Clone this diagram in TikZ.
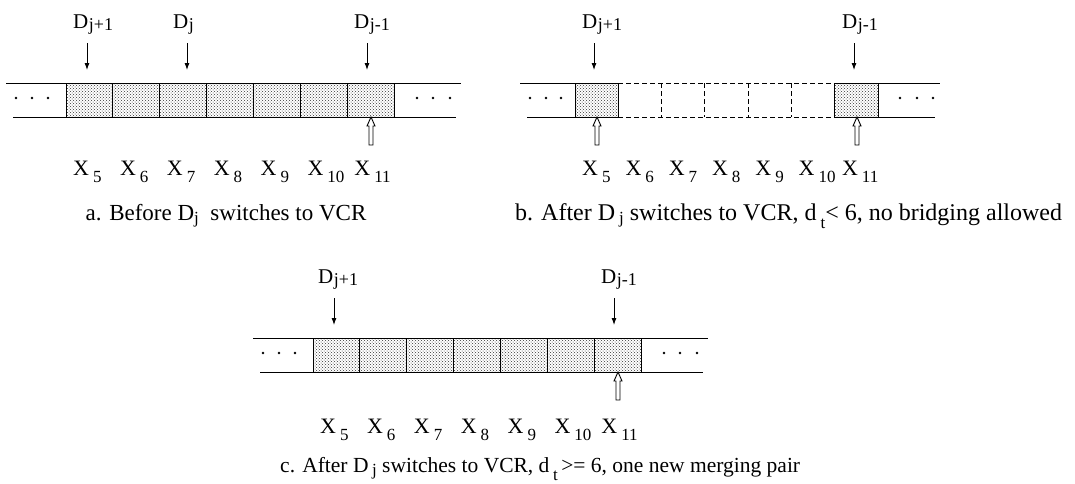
\documentclass[tikz,border=0pt]{standalone}
\usepackage{fontspec}
\setmainfont{Liberation Serif}
\usetikzlibrary{arrows.meta,patterns}

\newcommand{\xsub}[1]{\hspace{4pt}\raisebox{-7pt}{\fontsize{17}{17}\selectfont #1}}
\newcommand{\dsub}[1]{\hspace{0.5pt}\raisebox{-2pt}{\fontsize{18}{18}\selectfont #1}}
\newcommand{\csub}[2]{\raisebox{-#1pt}{\fontsize{17}{17}\selectfont #2}}

\begin{document}
\begin{tikzpicture}[x=1pt,y=-1pt,
  cellbox/.style={draw,line width=1pt,minimum height=34pt,inner sep=0pt,outer sep=0pt,anchor=north west},
  shaded/.style={cellbox,pattern=crosshatch dots,pattern color=black!80},
  gapline/.style={line width=1pt,dash pattern=on 5pt off 3pt},
  rail/.style={line width=1pt},
  pointer/.style={line width=0.9pt,-{Latex[length=7pt,width=5pt]}},
  dlab/.style={anchor=base west,inner sep=0pt,font=\fontsize{21}{25}\selectfont},
  xlab/.style={anchor=base west,inner sep=0pt,font=\fontsize{22}{26}\selectfont},
  caption/.style={anchor=base west,inner sep=0pt,font=\fontsize{23}{27}\selectfont},
  hollow/.pic={\draw[line width=0.9pt,fill=white] (0,0) -- (4,9) -- (2,9) -- (2,28) -- (-2,28) -- (-2,9) -- (-4,9) -- cycle;}]
\useasboundingbox (0,0) rectangle (1075,483);

% a. before the switch
\draw[rail] (6,83) -- (461,83);
\draw[rail] (13,117) -- (456,117);
\foreach \i [evaluate=\i as \n using int(\i+5)] in {0,...,6} {
  \node[shaded,minimum width=46.86pt] (a\n) at (66+46.86*\i,83) {};
  \node[xlab] (xa\n) at (73+46.86*\i,175) {X\xsub{\n}};
}
\foreach \x in {16,32,48,417,433,450} \fill (\x,98) circle (1.4pt);
\node[dlab] (da1) at (73,28) {D\dsub{j+1}};
\node[dlab] (da0) at (173,28) {D\dsub{j}};
\node[dlab] (da2) at (354,28) {D\dsub{j-1}};
\coordinate (ta1) at (87,43);  \coordinate (ha1) at (87,70);
\coordinate (ta0) at (187,43); \coordinate (ha0) at (187,70);
\coordinate (ta2) at (367,43); \coordinate (ha2) at (367,70);
\draw[pointer] (ta1) -- (ha1);
\draw[pointer] (ta0) -- (ha0);
\draw[pointer] (ta2) -- (ha2);
\pic (ua) at (371,117) {hollow};
\node[caption,anchor=base] (capa) at (226,220) {a. Before D\csub{3}{j}\ \ switches to VCR};

% b. no bridging
\draw[rail] (520,83) -- (575,83);
\draw[rail] (878,83) -- (940,83);
\draw[rail] (527,117) -- (575,117);
\draw[rail] (878,117) -- (935,117);
\node[shaded,minimum width=43.3pt] (b5) at (575,83) {};
\foreach \i [evaluate=\i as \n using int(\i+5)] in {1,...,5}
  \node[cellbox,draw=none,minimum width=43.3pt] (b\n) at (575+43.3*\i,83) {};
\node[shaded,minimum width=43.3pt] (b11) at (834.8,83) {};
\draw[gapline] (b6.north west) -- (b10.north east);
\draw[gapline] (b6.south west) -- (b10.south east);
\foreach \n in {6,...,9} \draw[gapline] (b\n.north east) -- (b\n.south east);
\foreach \i [evaluate=\i as \n using int(\i+5)] in {0,...,6}
  \node[xlab] (xb\n) at (582+43.3*\i,175) {X\xsub{\n}};
\foreach \x in {530,546,561,900,917,933} \fill (\x,98) circle (1.4pt);
\node[dlab] (db1) at (582,28) {D\dsub{j+1}};
\node[dlab] (db2) at (842,28) {D\dsub{j-1}};
\coordinate (tb1) at (594,43); \coordinate (hb1) at (594,70);
\coordinate (tb2) at (854,43); \coordinate (hb2) at (854,70);
\draw[pointer] (tb1) -- (hb1);
\draw[pointer] (tb2) -- (hb2);
\pic (ub1) at (597,117) {hollow};
\pic (ub2) at (857,117) {hollow};
\node[caption,font=\fontsize{24}{28}\selectfont] (capb) at (515,220) {b. After D\,\csub{3}{j} switches to VCR, d\,\csub{8}{t}< 6, no bridging allowed};

% c. one new merging pair
\draw[rail] (253,338) -- (708,338);
\draw[rail] (260,372) -- (703,372);
\foreach \i [evaluate=\i as \n using int(\i+5)] in {0,...,6} {
  \node[shaded,minimum width=46.86pt] (c\n) at (313+46.86*\i,338) {};
  \node[xlab] (xc\n) at (320+46.86*\i,433) {X\xsub{\n}};
}
\foreach \x in {263,279,295,664,680,697} \fill (\x,353) circle (1.4pt);
\node[dlab] (dc1) at (318,283) {D\dsub{j+1}};
\node[dlab] (dc2) at (601,283) {D\dsub{j-1}};
\coordinate (tc1) at (334,298); \coordinate (hc1) at (334,325);
\coordinate (tc2) at (614,298); \coordinate (hc2) at (614,325);
\draw[pointer] (tc1) -- (hc1);
\draw[pointer] (tc2) -- (hc2);
\pic (uc) at (618,372) {hollow};
\node[caption,font=\fontsize{21.5}{25}\selectfont] (capc) at (280,472) {c. After D\,\csub{3}{j} switches to VCR, d\,\csub{8}{t}\,>= 6, one new merging pair};
\end{tikzpicture}
\end{document}
